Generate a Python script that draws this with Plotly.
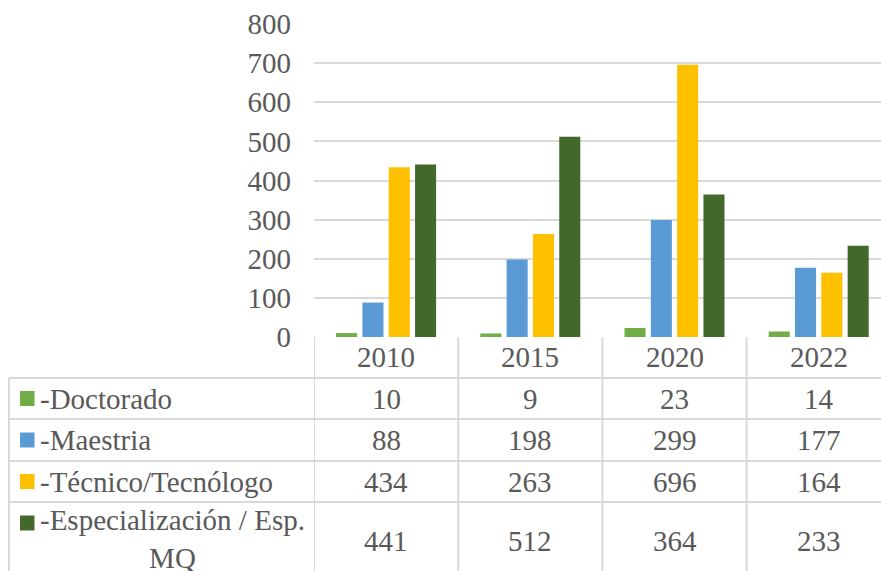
import plotly.graph_objects as go

# ---- data ----
years = ["2010", "2015", "2020", "2022"]
series_names = ["-Doctorado", "-Maestria", "-Técnico/Tecnólogo", "-Especialización / Esp.<br>MQ"]
doctorado = [10, 9, 23, 14]
maestria = [88, 198, 299, 177]
tecnico = [434, 263, 696, 164]
especializacion = [441, 512, 364, 233]
y_ticks = [0, 100, 200, 300, 400, 500, 600, 700, 800]

series_values = [doctorado, maestria, tecnico, especializacion]
colors = ["#70AD47", "#5B9BD5", "#FFC000", "#43682B"]

W, H = 881, 571
FONT = "Liberation Serif"
TXT = "#595959"
GRID = "#D9D9D9"
FS = 29


def px_x(p):
    return p / W


def px_y(p):
    return 1 - p / H


# layout geometry (pixels)
plot_left = 314
col_w = 144.2
y0_px, y800_px = 337, 24
row_edges = [378, 419, 461, 502, 580]
table_left = 9

fig = go.Figure()
xs = list(range(len(years)))
for name, vals, c in zip(series_names, series_values, colors):
    fig.add_trace(go.Bar(x=xs, y=vals, name=name, marker=dict(color=c, line=dict(width=0)),
                         showlegend=False))

x_min = -0.5
x_max = -0.5 + (W - plot_left) / col_w

fig.update_layout(
    width=W, height=H,
    margin=dict(l=0, r=0, t=0, b=0, autoexpand=False),
    paper_bgcolor="white", plot_bgcolor="white",
    barmode="group", bargap=0.27, bargroupgap=0.2,
    font=dict(family=FONT, size=FS, color=TXT),
    xaxis=dict(domain=[px_x(plot_left), 1], range=[x_min, x_max], showticklabels=False,
               showgrid=False, zeroline=False, fixedrange=True, automargin=False),
    yaxis=dict(domain=[px_y(y0_px), px_y(y800_px)], range=[0, 800], tickvals=y_ticks,
               showgrid=True, gridcolor=GRID, gridwidth=1.6, zeroline=False, automargin=False,
               ticklabelstandoff=22, tickfont=dict(family=FONT, size=FS, color=TXT)),
)

shapes = []
line = dict(color=GRID, width=2)
# horizontal table lines
for r in row_edges:
    shapes.append(dict(type="line", xref="paper", yref="paper", x0=px_x(table_left), x1=1,
                       y0=px_y(r), y1=px_y(r), line=line))
# vertical lines between columns
for i in range(len(years)):
    shapes.append(dict(type="line", xref="x", yref="paper", x0=i - 0.5, x1=i - 0.5,
                       y0=px_y(y0_px), y1=px_y(row_edges[-1]), line=line))
shapes.append(dict(type="line", xref="paper", yref="paper", x0=px_x(table_left), x1=px_x(table_left),
                   y0=px_y(row_edges[0]), y1=px_y(row_edges[-1]), line=line))

annotations = []
# header years
for i, yr in enumerate(years):
    annotations.append(dict(xref="x", yref="paper", x=i, y=px_y((y0_px + row_edges[0]) / 2),
                            text=yr, showarrow=False, xanchor="center", yanchor="middle",
                            font=dict(family=FONT, size=FS, color=TXT)))
# rows
for r, (name, vals, c) in enumerate(zip(series_names, series_values, colors)):
    top, bot = row_edges[r], row_edges[r + 1]
    cy = (top + bot) / 2
    key_cy = cy if r < 3 else top + 21
    shapes.append(dict(type="rect", xref="paper", yref="paper", x0=px_x(20), x1=px_x(34.5),
                       y0=px_y(key_cy - 7.5), y1=px_y(key_cy + 7.5), fillcolor=c,
                       line=dict(width=0)))
    annotations.append(dict(xref="paper", yref="paper", x=px_x(38), y=px_y(cy - (2 if r == 3 else 0)),
                            text=name, showarrow=False, xanchor="left", yanchor="middle",
                            align="center", font=dict(family=FONT, size=FS, color=TXT)))
    for i, v in enumerate(vals):
        annotations.append(dict(xref="x", yref="paper", x=i, y=px_y(cy),
                                text=str(v), showarrow=False, xanchor="center", yanchor="middle",
                                font=dict(family=FONT, size=FS, color=TXT)))

fig.update_layout(shapes=shapes, annotations=annotations)
fig.write_html("out.html", config={"displayModeBar": False},
               post_script="document.body.style.margin='0';")
